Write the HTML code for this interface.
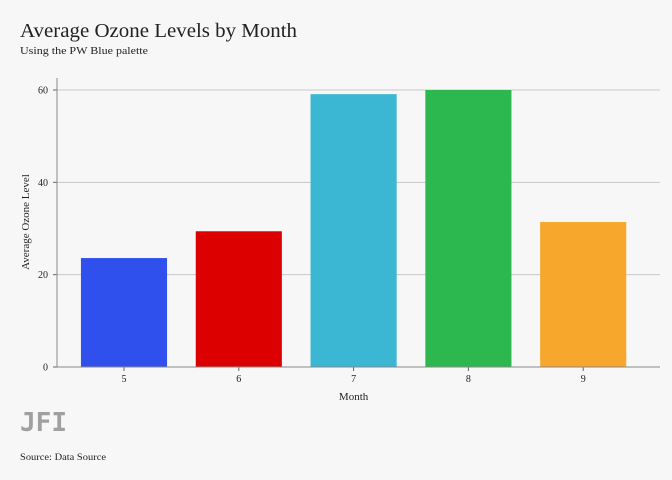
<!DOCTYPE html>
<html><head><meta charset="utf-8"><style>
body{margin:0;background:#f7f7f7;}
svg{display:block;font-family:"Liberation Serif",serif;}
</style></head><body>
<svg width="672" height="480">
<rect width="672" height="480" fill="#f7f7f7"/>
<text x="20" y="37" font-size="20" fill="#222" textLength="277" lengthAdjust="spacingAndGlyphs">Average Ozone Levels by Month</text>
<text x="20" y="54" font-size="11" fill="#222" textLength="128" lengthAdjust="spacingAndGlyphs">Using the PW Blue palette</text>
<g id="plot"></g>
<text x="20" y="431" font-size="26" fill="#a0a0a0" font-weight="bold" font-family="DejaVu Sans Mono, monospace" textLength="47" lengthAdjust="spacingAndGlyphs">JFI</text>
<text x="20" y="460" font-size="9.5" fill="#222" textLength="86" lengthAdjust="spacingAndGlyphs">Source: Data Source</text>
</svg>
<script>
const months = ["5","6","7","8","9"];
const ozone = [23.6, 29.4, 59.1, 60.0, 31.4];
const yTicks = [0, 20, 40, 60];
const colors = ["#3050ee","#dd0000","#3bb6d3","#2db74f","#f7a72b"];
const NS="http://www.w3.org/2000/svg";
const g=document.getElementById('plot');
const x0=66.6, bw=114.8, yBase=367, yPer=(367-90)/60;
const y=v=>yBase-v*yPer;
const xc=i=>x0+bw*(i+0.5);
function mk(t,a){const e=document.createElementNS(NS,t);for(const k in a)e.setAttribute(k,a[k]);g.appendChild(e);return e;}
yTicks.forEach(t=>{
  if(t>0){const l=mk('line',{x1:57,x2:660,y1:y(t),y2:y(t),stroke:'#c8c8c8','stroke-width':1});
  
  }
  const tx=mk('text',{x:48,y:y(t)+3.5,'font-size':10,'text-anchor':'end',fill:'#222'});
  tx.textContent=t;
  
  
  const tk=mk('line',{x1:53,x2:57,y1:y(t),y2:y(t),stroke:'#666'});
  
  
});
months.forEach((m,i)=>{
  const w=bw*0.75;
  const r=mk('rect',{x:xc(i)-w/2,y:y(ozone[i]),width:w,height:yBase-y(ozone[i]),fill:colors[i]});
  
  
  const tk=mk('line',{x1:xc(i),x2:xc(i),y1:yBase,y2:yBase+4,stroke:'#666'});
  
  
  const t=mk('text',{x:xc(i),y:382,'font-size':10,'text-anchor':'middle',fill:'#222'});
  t.textContent=m;
  
  
});
const ax=mk('line',{x1:57,x2:660,y1:yBase,y2:yBase,stroke:'#888'});


const ay=mk('line',{x1:57,x2:57,y1:78,y2:yBase,stroke:'#888'});


const xt=mk('text',{x:353.6,y:400,'font-size':11,'text-anchor':'middle',fill:'#222'});
xt.textContent='Month';


const yt=mk('text',{x:0,y:0,'font-size':11,'text-anchor':'middle',fill:'#222',transform:'translate(29,222) rotate(-90)'});
yt.textContent='Average Ozone Level';


</script>
</body></html>
